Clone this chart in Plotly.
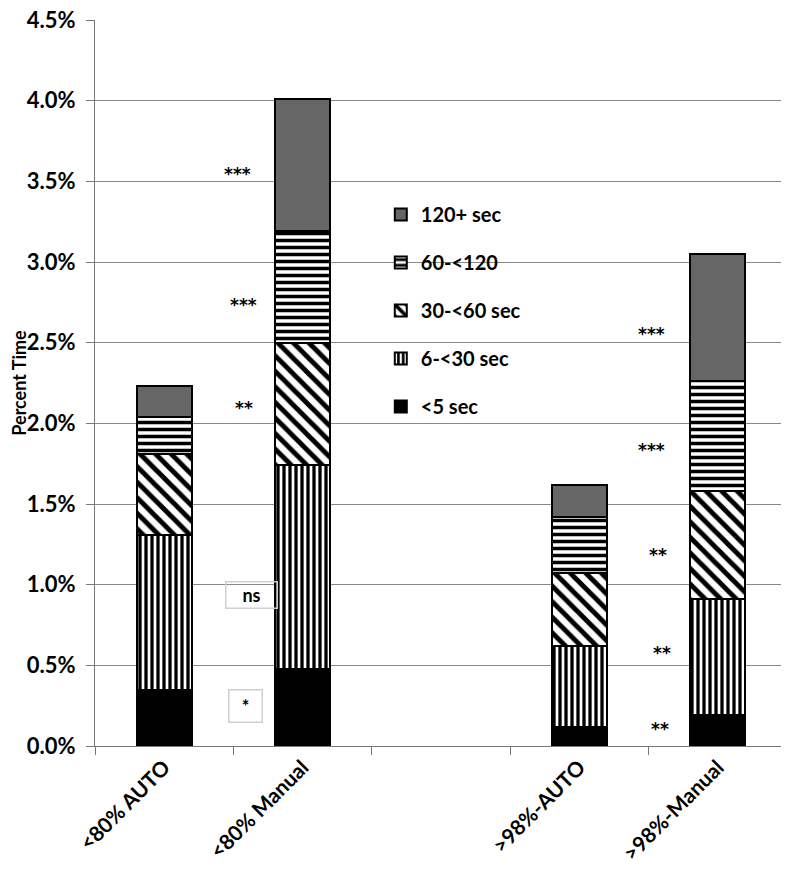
import plotly.graph_objects as go

categories = ["<80% AUTO", "<80% Manual", " ", ">98%-AUTO", ">98%-Manual"]
series_names = ["<5 sec", "6-<30 sec", "30-<60 sec", "60-<120", "120+ sec"]
lt5 = [0.35, 0.48, None, 0.12, 0.19]
s6_30 = [0.96, 1.26, None, 0.50, 0.72]
s30_60 = [0.50, 0.76, None, 0.45, 0.67]
s60_120 = [0.23, 0.69, None, 0.35, 0.68]
s120 = [0.19, 0.82, None, 0.20, 0.79]

# significance labels: (x position in category units, y value %, text, boxed)
sig_x = [0.53, 0.57, 0.58, 0.63, 0.59, 3.52, 3.52, 3.57, 3.6, 3.58]
sig_y = [3.57, 2.76, 2.12, 0.935, 0.25, 2.58, 1.86, 1.21, 0.60, 0.13]
sig_text = ["***", "***", "**", "ns", "*", "***", "***", "**", "**", "**"]
sig_box = [False, False, False, True, True, False, False, False, False, False]

FONT = "Lato"
styles = [
    dict(color="black", pattern=None),
    dict(color="white", pattern=dict(shape="|", fgcolor="black", bgcolor="white", fgopacity=1,
                                     size=6, solidity=0.55, fillmode="overlay")),
    dict(color="white", pattern=dict(shape="\\", fgcolor="black", bgcolor="white", fgopacity=1,
                                     size=11, solidity=0.45, fillmode="overlay")),
    dict(color="white", pattern=dict(shape="-", fgcolor="black", bgcolor="white", fgopacity=1,
                                     size=7, solidity=0.5, fillmode="overlay")),
    dict(color="#666666", pattern=None),
]

fig = go.Figure()
series = [lt5, s6_30, s30_60, s60_120, s120]
for i, (name, vals) in enumerate(zip(series_names, series)):
    st = styles[i]
    marker = dict(color=st["color"], line=dict(color="black", width=2))
    if st["pattern"] is not None:
        marker["pattern"] = st["pattern"]
    fig.add_trace(go.Bar(x=categories, y=vals, name=name, marker=marker,
                         width=0.4, legendgroup=name, legendrank=len(series) - i))

for x, y, t, b in zip(sig_x, sig_y, sig_text, sig_box):
    if b:
        fig.add_annotation(x=x, y=y, xref="x", yref="y", text=t, showarrow=False,
                           bordercolor="#cfcfcf", borderwidth=1.5, borderpad=0,
                           width=50 if t == "ns" else 32, height=25 if t == "ns" else 31,
                           font=dict(family=FONT, size=18, color="black", weight="bold"))
    else:
        fig.add_annotation(x=x, y=y, xref="x", yref="y", text=t, showarrow=False,
                           yshift=-4,
                           font=dict(family="DejaVu Sans", size=17, color="black", weight="bold"))

fig.update_layout(
    width=781, height=864,
    barmode="stack",
    plot_bgcolor="white", paper_bgcolor="white",
    margin=dict(l=87, r=2, t=12, b=126, autoexpand=False),
    font=dict(family=FONT, color="black"),
    legend=dict(x=0.413, y=0.759, xanchor="left", yanchor="top",
                traceorder="grouped", tracegroupgap=19,
                font=dict(family=FONT, size=20, weight="bold"),
                bgcolor="rgba(0,0,0,0)"),
    xaxis=dict(type="category", categoryorder="array", categoryarray=categories,
               range=[-0.5, 4.5], tickson="boundaries", ticks="outside", ticklen=8,
               tickcolor="#777777", showline=True, linecolor="#777777", linewidth=1,
               tickangle=-45, tickfont=dict(family=FONT, size=21, weight="bold"),
               showgrid=False, automargin=False),
    yaxis=dict(range=[0, 4.5001], tick0=0, dtick=0.5, tickformat=".1f", ticksuffix="%",
               ticks="outside", ticklen=8, tickcolor="#777777",
               ticklabeloverflow="allow", ticklabelstandoff=6, automargin=False,
               showline=True, linecolor="#777777", linewidth=1,
               showgrid=True, gridcolor="#888888", gridwidth=1,
               tickfont=dict(family=FONT, size=22, weight="bold"),
               title=dict(text="Percent Time", font=dict(family=FONT, size=18, weight="bold"),
                          standoff=0),
               zeroline=False),
)

fig.write_html("out.html")
